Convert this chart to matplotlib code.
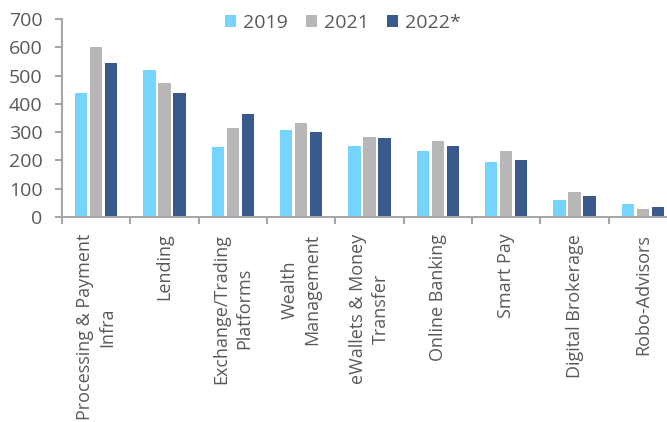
import matplotlib
matplotlib.use("Agg")
import matplotlib.pyplot as plt
from matplotlib.patches import Patch
import numpy as np

categories = ["Processing & Payment\nInfra", "Lending", "Exchange/Trading\nPlatforms",
              "Wealth\nManagement", "eWallets & Money\nTransfer", "Online Banking",
              "Smart Pay", "Digital Brokerage", "Robo-Advisors"]
series_names = ["2019", "2021", "2022*"]
v2019 = [440, 521, 249, 308, 252, 232, 196, 61, 47]
v2021 = [600, 474, 316, 332, 282, 269, 232, 89, 29]
v2022 = [545, 438, 365, 300, 281, 252, 200, 75, 35]
yticks = [0, 100, 200, 300, 400, 500, 600, 700]

colors = ["#75D5FF", "#B7B7B7", "#3A5A8D"]
plt.rcParams['font.family'] = ['Open Sans', 'DejaVu Sans']
fs = 14

fig = plt.figure(figsize=(6.67, 4.22), dpi=100)
ax = fig.add_axes([62/667, 1-217/422, 615/667, (217-19)/422])

x = np.arange(len(categories))
w = 0.18
step = 0.22
for i, (vals, c) in enumerate(zip([v2019, v2021, v2022], colors)):
    ax.bar(x + (i-1)*step, vals, width=w, color=c, edgecolor='none', zorder=2)

ax.set_xlim(-0.5, len(categories)-0.5)
ax.set_ylim(0, 700)
ax.set_yticks(yticks)
ax.tick_params(axis='y', colors='#A6A6A6', labelcolor='#595959', labelsize=fs, length=5, width=1.5, direction='out', pad=9)
ax.set_xticks(x)
ax.set_xticklabels(categories, rotation=90, va='top', ha='center', multialignment='center',
                   linespacing=1.3)
ax.set_xticks(np.arange(len(categories)+1)-0.5, minor=True)
ax.tick_params(axis='x', which='major', length=0, labelsize=13, labelcolor='#595959', pad=12)
ax.tick_params(axis='x', which='minor', length=5, width=1.5, colors='#A6A6A6', direction='out')
for s in ['top', 'right']:
    ax.spines[s].set_visible(False)
for s in ['left', 'bottom']:
    ax.spines[s].set_color('#A6A6A6')
    ax.spines[s].set_linewidth(1.5)

handles = [Patch(facecolor=c, edgecolor='none') for c in colors]
fig.legend(handles, series_names, loc='center', bbox_to_anchor=(343/667, 1-23/422), ncol=3,
           frameon=False, fontsize=fs, handlelength=0.57, handleheight=0.57,
           handletextpad=0.36, columnspacing=0.93, labelcolor='#595959',
           borderaxespad=0, borderpad=0)

fig.savefig("out.png", dpi=100)
